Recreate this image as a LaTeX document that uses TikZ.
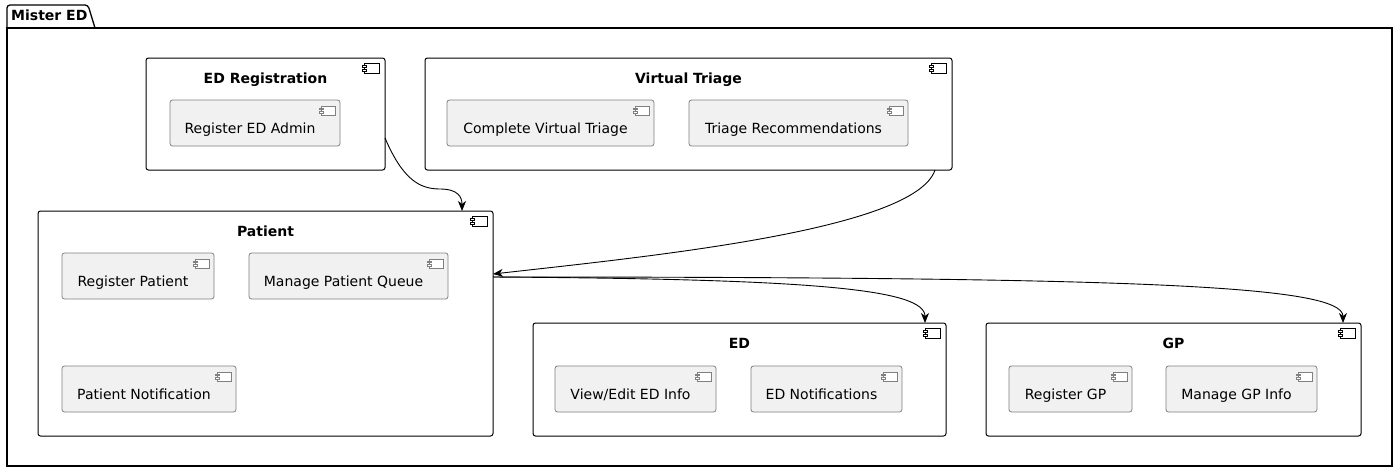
\documentclass[tikz,border=0pt]{standalone}
\usepackage{fontspec}
\setmainfont{DejaVu Sans}
\usetikzlibrary{arrows.meta}
\definecolor{innerfill}{HTML}{F1F1F1}
\definecolor{innerline}{HTML}{808080}
\tikzset{
  pkgbox/.style={draw=black, line width=1.3pt, anchor=north west, inner sep=0pt, outer sep=0pt},
  compbox/.style={draw=black, line width=1pt, rounded corners=2.5pt, fill=white, anchor=north west, inner sep=0pt, outer sep=0pt, minimum height=#1},
  innerbox/.style={draw=innerline, line width=0.8pt, rounded corners=2.5pt, fill=innerfill, anchor=north west, inner sep=0pt, outer sep=0pt, minimum height=46pt},
  txt/.style={inner sep=0pt, text height=10pt, text depth=3pt},
  ttl/.style={txt, font=\fontsize{14}{16}\selectfont\bfseries},
  conn/.style={draw=black, line width=0.9pt, -{Stealth[length=10pt,width=8pt,inset=3pt]}},
  compicon/.pic={
    \draw[fill=white] (0,0) rectangle (15,10);
    \draw[fill=white] (-2,2) rectangle (2,4);
    \draw[fill=white] (-2,6) rectangle (2,8);
  }
}
\newcommand\outericon[1]{\pic[line width=0.9pt] at ([xshift=-21pt,yshift=-5pt]#1.north east) {compicon};}
\newcommand\innericon[1]{\pic[draw=innerline, line width=0.7pt, scale=0.95] at ([xshift=-19pt,yshift=-6pt]#1.north east) {compicon};}
\newcommand\compttl[3]{\node[ttl] (#1) at ([yshift=-21.8pt]#2.north) {#3};}
\newcommand\innertxt[3]{\node[txt] (#1) at ([xshift=-5pt,yshift=-6.5pt]#2.center) {#3};}
\begin{document}
\begin{tikzpicture}[x=1pt,y=-1pt, font=\fontsize{14}{16}\selectfont]
\useasboundingbox (0,0) rectangle (1399,474);

% package
\draw[line width=1.3pt, rounded corners=3pt] (7,28) -- (7,5) -- (88,5) -- (95,28);
\node[pkgbox, minimum width=1385pt, minimum height=438pt] (pkg) at (7,28) {};
\node[ttl, anchor=west] (pkgttl) at (11,16.5) {Mister ED};

% ED Registration
\node[compbox=112pt, minimum width=239pt] (edreg) at (146,58) {};
\outericon{edreg}
\compttl{edregt}{edreg}{ED Registration}
\node[innerbox, minimum width=170pt] (rea) at (170,100) {};
\innericon{rea}
\innertxt{reat}{rea}{Register ED Admin}

% Virtual Triage
\node[compbox=112pt, minimum width=527pt] (vt) at (425,58) {};
\outericon{vt}
\compttl{vtt}{vt}{Virtual Triage}
\node[innerbox, minimum width=207pt] (cvt) at (447,100) {};
\innericon{cvt}
\innertxt{cvtt}{cvt}{Complete Virtual Triage}
\node[innerbox, minimum width=219pt] (tr) at (689,100) {};
\innericon{tr}
\innertxt{trt}{tr}{Triage Recommendations}

% Patient
\node[compbox=225pt, minimum width=455pt] (pat) at (38,211) {};
\outericon{pat}
\compttl{patt}{pat}{Patient}
\node[innerbox, minimum width=152pt] (rp) at (62,253) {};
\innericon{rp}
\innertxt{rpt}{rp}{Register Patient}
\node[innerbox, minimum width=199pt] (mpq) at (249,253) {};
\innericon{mpq}
\innertxt{mpqt}{mpq}{Manage Patient Queue}
\node[innerbox, minimum width=174pt] (pn) at (62,366) {};
\innericon{pn}
\innertxt{pnt}{pn}{Patient Notification}

% ED
\node[compbox=113pt, minimum width=413pt] (ed) at (533,323) {};
\outericon{ed}
\compttl{edt}{ed}{ED}
\node[innerbox, minimum width=161pt] (vei) at (555,366) {};
\innericon{vei}
\innertxt{veit}{vei}{View/Edit ED Info}
\node[innerbox, minimum width=151pt] (edn) at (751,366) {};
\innericon{edn}
\innertxt{ednt}{edn}{ED Notifications}

% GP
\node[compbox=113pt, minimum width=375pt] (gp) at (986,323) {};
\outericon{gp}
\compttl{gpt}{gp}{GP}
\node[innerbox, minimum width=123pt] (rgp) at (1009,366) {};
\innericon{rgp}
\innertxt{rgpt}{rgp}{Register GP}
\node[innerbox, minimum width=151pt] (mgi) at (1166,366) {};
\innericon{mgi}
\innertxt{mgit}{mgi}{Manage GP Info}

% connectors
\draw[conn] ([yshift=-24pt]edreg.east) .. controls +(18,42) and +(-20,0) .. (440,189)
   .. controls +(18,0) and +(0,-14) .. ([xshift=-31pt]pat.north east);
\draw[conn] ([xshift=-17pt]vt.south east) .. controls +(-20,60) and +(160,-18) .. ([yshift=49.5pt]pat.east);
\draw[conn] ([yshift=46.5pt]pat.east) .. controls +(320,2) and +(0,-34) .. ([xshift=-21pt]ed.north east);
\draw[conn] ([yshift=46.5pt]pat.east) .. controls +(640,0) and +(0,-38) .. ([xshift=-18pt]gp.north east);
\end{tikzpicture}
\end{document}
